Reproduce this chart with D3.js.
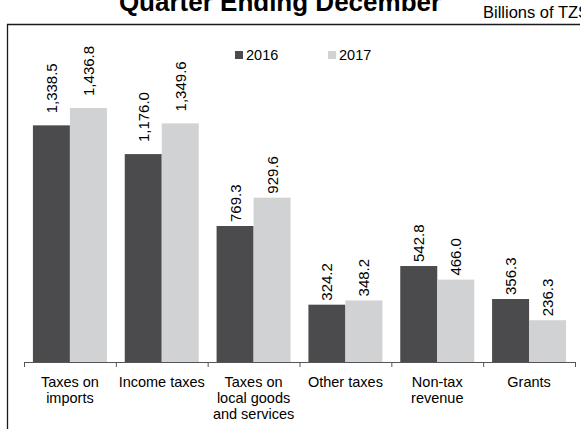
<!DOCTYPE html>
<html>
<head>
<meta charset="utf-8">
<script src="https://cdn.jsdelivr.net/npm/d3@7"></script>
<style>
  html, body { margin: 0; background: #fff; overflow: hidden; }
  svg { display: block; }
  text { font-family: "Liberation Sans", Arial, sans-serif; fill: #000; }
</style>
</head>
<body>
<div class="chart"></div>
<script>
// chart data
var categories = ["Taxes on imports", "Income taxes", "Taxes on local goods and services",
  "Other taxes", "Non-tax revenue", "Grants"];
var tickLabels = [["Taxes on", "imports"], ["Income taxes"], ["Taxes on", "local goods", "and services"],
  ["Other taxes"], ["Non-tax", "revenue"], ["Grants"]];
var seriesNames = ["2016", "2017"];
var values2016 = [1338.5, 1176.0, 769.3, 324.2, 542.8, 356.3];
var values2017 = [1436.8, 1349.6, 929.6, 348.2, 466.0, 236.3];

var svgWidth = 581;
var svgHeight = 429;
var colors = { "2016": "#4b4b4d", "2017": "#d1d2d4" };

var svg = d3.select(".chart")
  .append("svg")
  .attr("width", svgWidth)
  .attr("height", svgHeight);

// frame: only top and left edges are inside the picture
svg.append("line")
  .attr("x1", 7).attr("x2", svgWidth - 1)
  .attr("y1", 24.5).attr("y2", 24.5)
  .attr("stroke", "#1a1a1a")
  .attr("stroke-width", 1.3);
svg.append("line")
  .attr("x1", 7.5).attr("x2", 7.5)
  .attr("y1", 24).attr("y2", svgHeight)
  .attr("stroke", "#1a1a1a")
  .attr("stroke-width", 1.3);

// title, partly cut off at the top
svg.append("text")
  .attr("x", 280)
  .attr("y", 11)
  .attr("text-anchor", "middle")
  .style("font-size", "26px")
  .style("font-weight", "bold")
  .text("Quarter Ending December");

svg.append("text")
  .attr("x", 483)
  .attr("y", 18)
  .style("font-size", "16.5px")
  .text("Billions of TZS");

// scales
var baseY = 362;
var x = d3.scaleBand().domain(categories).range([24, 575]);
var xInner = d3.scaleBand().domain(seriesNames).range([0, x.bandwidth()]).paddingOuter(0.241);
var y = d3.scaleLinear().domain([0, 1800]).range([baseY, baseY - 1800 * 0.1768]);

var data = categories.map(function(c, i) {
  return { cat: c, "2016": values2016[i], "2017": values2017[i] };
});

var groups = svg.selectAll(".cat")
  .data(data)
  .enter()
  .append("g")
  .attr("class", "cat")
  .attr("transform", d => `translate(${x(d.cat)},0)`);

var bars = groups.selectAll("g.bar")
  .data(d => seriesNames.map(s => ({ s: s, v: d[s] })))
  .enter()
  .append("g")
  .attr("class", "bar");

bars.append("rect")
  .attr("x", d => xInner(d.s))
  .attr("y", d => y(d.v))
  .attr("width", xInner.bandwidth())
  .attr("height", d => y(0) - y(d.v))
  .attr("fill", d => colors[d.s]);

// rotated value labels
bars.append("text")
  .attr("transform", function(d) {
    var cx = xInner(d.s) + xInner.bandwidth() / 2 + 5.5;
    var gap = d.v >= 1000 ? 12 : 4;
    return `translate(${cx},${y(d.v) - gap}) rotate(-90)`;
  })
  .style("font-size", "15px")
  .text(d => d3.format(",.1f")(d.v));

// x axis: line + boundary ticks
var axisG = svg.append("g").attr("transform", `translate(0,${baseY})`);
axisG.append("line")
  .attr("x1", x.range()[0]).attr("x2", x.range()[1])
  .attr("y1", 0.5).attr("y2", 0.5)
  .attr("stroke", "#555");
var bounds = categories.map(c => x(c)).concat([x.range()[1]]);
axisG.selectAll(".tick-b")
  .data(bounds)
  .enter()
  .append("line")
  .attr("x1", d => d + 0.5).attr("x2", d => d + 0.5)
  .attr("y1", 0).attr("y2", 5)
  .attr("stroke", "#555");

var labels = axisG.selectAll(".xlab")
  .data(categories)
  .enter()
  .append("text")
  .attr("text-anchor", "middle")
  .style("font-size", "14.5px");
labels.each(function(c, i) {
  var t = d3.select(this);
  tickLabels[i].forEach(function(line, j) {
    t.append("tspan")
      .attr("x", x(c) + x.bandwidth() / 2)
      .attr("y", 25 + j * 16)
      .text(line);
  });
});

// legend
var legend = svg.append("g");
var legendX = [235, 328];
seriesNames.forEach(function(s, i) {
  legend.append("rect")
    .attr("x", legendX[i]).attr("y", 51)
    .attr("width", 8).attr("height", 8)
    .attr("fill", colors[s]);
  legend.append("text")
    .attr("x", legendX[i] + 11).attr("y", 59.5)
    .style("font-size", "14.5px")
    .text(s);
});
</script>
</body>
</html>
